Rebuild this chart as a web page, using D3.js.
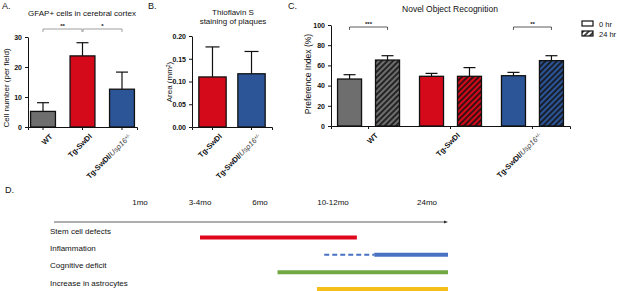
<!DOCTYPE html>
<meta charset="utf-8">
<script src="https://cdn.jsdelivr.net/npm/d3@7"></script>
<style>
body { margin: 0; background: #fff; }
svg text { font-family: "Liberation Sans", Arial, sans-serif; fill: #111; }
.tick text { font-weight: bold; font-size: 7px; }
.xcat .tick text { font-size: 7.5px; }
.axis path, .axis line { stroke: #111; stroke-width: 1; }
.ttl { font-size: 8px; }
.plab { font-size: 9px; }
</style>
<body>
<div id="chart"></div>
<script>
// ---------------- data ----------------
const gfapGroups = ["WT", "Tg-SwDI", "Tg-SwDI/Usp16+/-"];
const gfapMean = [5.2, 23.7, 12.6];
const gfapErr = [2.9, 4.4, 5.7];

const thioGroups = ["Tg-SwDI", "Tg-SwDI/Usp16+/-"];
const thioMean = [0.110, 0.117];
const thioErr = [0.066, 0.049];

const norGroups = ["WT", "Tg-SwDI", "Tg-SwDI/Usp16+/-"];
const norTimes = ["0 hr", "24 hr"];
const norMean0 = [46.5, 49.2, 49.8];
const norErr0 = [4.3, 2.9, 3.3];
const norMean24 = [65.3, 49.2, 64.7];
const norErr24 = [4.3, 8.6, 4.9];

const milestones = ["1mo", "3-4mo", "6mo", "10-12mo", "24mo"];
const milestoneMonths = [1, 3.5, 6, 11, 24];
const phases = ["Stem cell defects", "Inflammation", "Cognitive deficit", "Increase in astrocytes"];
const phaseDashStart = [null, 10.4, null, null];
const phaseStart = [3.5, 16.7, 7.2, 9.9];
const phaseEnd = [14.3, 27, 27, 27];

const groupColor = {"WT": "#6e6e6e", "Tg-SwDI": "#d40a1b", "Tg-SwDI/Usp16+/-": "#2c5597"};
const phaseColor = ["#e0061b", "#4a72c2", "#72a844", "#f6be18"];

const svg = d3.select("#chart").append("svg")
    .attr("width", 617).attr("height", 291);

// hatch patterns
const defs = svg.append("defs");
function hatch(id, bg) {
  const p = defs.append("pattern").attr("id", id)
      .attr("patternUnits", "userSpaceOnUse")
      .attr("width", 4).attr("height", 4)
      .attr("patternTransform", "rotate(45)");
  p.append("rect").attr("width", 4).attr("height", 4).attr("fill", bg);
  p.append("line").attr("x1", 1).attr("y1", 0).attr("x2", 1).attr("y2", 4)
      .attr("stroke", "#111").attr("stroke-width", 1.6);
}
hatch("h0", "#6e6e6e"); hatch("h1", "#d40a1b"); hatch("h2", "#2c5597"); hatch("hw", "#fff");

// category label with italic gene and superscript genotype
function catLabel(sel) {
  sel.each(function(d) {
    const t = d3.select(this).text(null);
    if (d.indexOf("/Usp16") > 0) {
      t.append("tspan").text("Tg-SwDI/");
      t.append("tspan").style("font-style", "italic").style("font-weight", "normal").style("fill", "#444").text("Usp16");
      t.append("tspan").attr("dy", -2).style("font-size", "5px").style("font-weight", "normal").text("+/-");
    } else t.text(d);
  });
}

function xAxisRot(g, scale, y) {
  const ax = g.append("g").attr("class", "axis xcat")
      .attr("transform", "translate(0," + y + ")")
      .call(d3.axisBottom(scale).tickSizeOuter(0).tickSize(3));
  ax.selectAll(".tick text")
      .attr("text-anchor", "end")
      .attr("transform", "translate(3,3) rotate(-45)")
      .attr("dy", "0.5em")
      .call(catLabel);
  return ax;
}

function errBars(g, cx, top, w) {
  g.append("line").attr("x1", cx).attr("x2", cx).attr("y1", top.y0).attr("y2", top.y1)
      .attr("stroke", "#111").attr("stroke-width", 1.2);
  g.append("line").attr("x1", cx - w / 2).attr("x2", cx + w / 2).attr("y1", top.y1).attr("y2", top.y1)
      .attr("stroke", "#111").attr("stroke-width", 1.2);
}

function bracket(g, x1, x2, y, label, col) {
  g.append("path").attr("d", "M" + x1 + "," + (y + 3) + "V" + y + "H" + x2 + "V" + (y + 3))
      .attr("fill", "none").attr("stroke", col).attr("stroke-width", 0.8);
  g.append("text").attr("x", (x1 + x2) / 2).attr("y", y - 1.5).attr("text-anchor", "middle")
      .style("font-size", "6px").style("font-weight", "bold").text(label);
}

// ---------------- A ----------------
const gA = svg.append("g");
const xA = d3.scaleBand().domain(gfapGroups).range([28, 137]).paddingInner(0.37).paddingOuter(0.065);
const yA = d3.scaleLinear().domain([0, 30]).range([127, 37]);
gA.append("g").attr("class", "axis").attr("transform", "translate(28,0)")
    .call(d3.axisLeft(yA).tickValues([0, 10, 20, 30]).tickSize(3).tickSizeOuter(0));
gfapGroups.forEach((d, i) => {
  errBars(gA, xA(d) + xA.bandwidth() / 2, {y0: yA(gfapMean[i]), y1: yA(gfapMean[i] + gfapErr[i])}, 12);
  gA.append("rect").attr("x", xA(d)).attr("y", yA(gfapMean[i]))
      .attr("width", xA.bandwidth()).attr("height", yA(0) - yA(gfapMean[i]))
      .attr("fill", groupColor[d]).attr("stroke", "#111").attr("stroke-width", 1.3);
});
xAxisRot(gA, xA, 127);
const cA = gfapGroups.map(d => xA(d) + xA.bandwidth() / 2);
bracket(gA, cA[0], cA[1] - 0.5, 29, "**", "#888");
bracket(gA, cA[1] + 0.5, cA[2], 29, "*", "#888");
gA.append("text").attr("class", "ttl").attr("x", 82).attr("y", 16).attr("text-anchor", "middle")
    .text("GFAP+ cells in cerebral cortex");
gA.append("text").attr("class", "ttl").attr("transform", "translate(9,88) rotate(-90)")
    .attr("text-anchor", "middle").text("Cell number (per field)");
gA.append("text").attr("class", "plab").attr("x", 2).attr("y", 9).text("A.");

// ---------------- B ----------------
const gB = svg.append("g");
const xB = d3.scaleBand().domain(thioGroups).range([192, 272]).paddingInner(0.3).paddingOuter(0.175);
const yB = d3.scaleLinear().domain([0, 0.2]).range([127, 36]);
gB.append("g").attr("class", "axis").attr("transform", "translate(192,0)")
    .call(d3.axisLeft(yB).tickValues([0, 0.05, 0.1, 0.15, 0.2]).tickFormat(d3.format(".2f")).tickSize(3).tickSizeOuter(0));
thioGroups.forEach((d, i) => {
  errBars(gB, xB(d) + xB.bandwidth() / 2, {y0: yB(thioMean[i]), y1: yB(thioMean[i] + thioErr[i])}, 14);
  gB.append("rect").attr("x", xB(d)).attr("y", yB(thioMean[i]))
      .attr("width", xB.bandwidth()).attr("height", yB(0) - yB(thioMean[i]))
      .attr("fill", groupColor[d]).attr("stroke", "#111").attr("stroke-width", 1.3);
});
xAxisRot(gB, xB, 127);
gB.append("text").attr("class", "ttl").attr("x", 233).attr("y", 15).attr("text-anchor", "middle").text("Thioflavin S");
gB.append("text").attr("class", "ttl").attr("x", 233).attr("y", 24).attr("text-anchor", "middle").text("staining of plaques");
const aT = gB.append("text").attr("class", "ttl").attr("transform", "translate(172,82) rotate(-90)")
    .attr("text-anchor", "middle");
aT.append("tspan").text("Area (mm");
aT.append("tspan").attr("dy", -2.5).style("font-size", "5px").text("2");
aT.append("tspan").attr("dy", 2.5).text(")");
gB.append("text").attr("class", "plab").attr("x", 148).attr("y", 9).text("B.");

// ---------------- C ----------------
const gC = svg.append("g");
const xC = d3.scaleBand().domain(norGroups).range([331, 570]).paddingInner(0.244).paddingOuter(0.08);
const xC2 = d3.scaleBand().domain(norTimes).range([0, xC.bandwidth()]).paddingInner(0.368);
const yC = d3.scaleLinear().domain([0, 100]).range([126, 25]);
gC.append("g").attr("class", "axis").attr("transform", "translate(331,0)")
    .call(d3.axisLeft(yC).tickValues([0, 20, 40, 60, 80, 100]).tickSize(3).tickSizeOuter(0));
norGroups.forEach((d, i) => {
  const vals = [[norMean0[i], norErr0[i]], [norMean24[i], norErr24[i]]];
  norTimes.forEach((t, j) => {
    const x0 = xC(d) + xC2(t);
    errBars(gC, x0 + xC2.bandwidth() / 2, {y0: yC(vals[j][0]), y1: yC(vals[j][0] + vals[j][1])}, 12);
    gC.append("rect").attr("x", x0).attr("y", yC(vals[j][0]))
        .attr("width", xC2.bandwidth()).attr("height", yC(0) - yC(vals[j][0]))
        .attr("fill", j === 0 ? groupColor[d] : "url(#h" + i + ")")
        .attr("stroke", "#111").attr("stroke-width", 1.3);
  });
});
xAxisRot(gC, xC, 126);
const cC = (g, t) => xC(g) + xC2(t) + xC2.bandwidth() / 2;
bracket(gC, cC("WT", "0 hr"), cC("WT", "24 hr"), 27, "***", "#333");
bracket(gC, cC("Tg-SwDI/Usp16+/-", "0 hr"), cC("Tg-SwDI/Usp16+/-", "24 hr"), 27, "**", "#333");
gC.append("text").attr("class", "ttl").attr("x", 450).attr("y", 12).attr("text-anchor", "middle")
    .style("font-size", "8.5px").text("Novel Object Recognition");
gC.append("text").attr("class", "ttl").attr("transform", "translate(311,74) rotate(-90)")
    .attr("text-anchor", "middle").style("font-size", "8.5px").text("Preference Index (%)");
gC.append("text").attr("class", "plab").attr("x", 288).attr("y", 9).text("C.");
const leg = gC.append("g").selectAll("g").data(norTimes).join("g")
    .attr("transform", (d, i) => "translate(582," + (21 + i * 10) + ")");
leg.append("rect").attr("width", 11).attr("height", 5)
    .attr("fill", (d, i) => i === 0 ? "#fff" : "url(#hw)").attr("stroke", "#111").attr("stroke-width", 1.2);
leg.append("text").attr("x", 17).attr("y", 5.5).style("font-size", "7.5px").text(d => d);

// ---------------- D ----------------
const gD = svg.append("g");
const xD = d3.scaleLinear().domain([0].concat(milestoneMonths, [27]))
    .range([54, 140, 200, 260, 333, 427, 448]);
const yD = d3.scalePoint().domain(phases).range([231, 283]);
gD.append("text").attr("class", "plab").attr("x", 5).attr("y", 193).text("D.");
gD.selectAll(".ms").data(milestones).join("text").attr("class", "ms")
    .attr("x", (d, i) => xD(milestoneMonths[i])).attr("y", 205)
    .attr("text-anchor", "middle").style("font-size", "8px").text(d => d);
gD.append("line").attr("x1", xD(0)).attr("x2", xD(27) - 2).attr("y1", 222).attr("y2", 222)
    .attr("stroke", "#333").attr("stroke-width", 0.8);
gD.append("path").attr("d", "M" + xD(27) + ",222l-4,-1.6v3.2z").attr("fill", "#333");
gD.selectAll(".ph").data(phases).join("text").attr("class", "ph")
    .attr("x", 50).attr("y", d => yD(d) + 2.5).style("font-size", "8px").text(d => d);
phases.forEach((d, i) => {
  const y = yD(d) + 6.5;
  if (phaseDashStart[i] !== null) {
    gD.append("line").attr("x1", xD(phaseDashStart[i])).attr("x2", xD(phaseStart[i]))
        .attr("y1", y).attr("y2", y).attr("stroke", phaseColor[i])
        .attr("stroke-width", 2).attr("stroke-dasharray", "5,3");
  }
  gD.append("line").attr("x1", xD(phaseStart[i])).attr("x2", xD(phaseEnd[i]))
      .attr("y1", y).attr("y2", y).attr("stroke", phaseColor[i]).attr("stroke-width", i === 3 ? 5 : 4);
});
</script>
</body>
